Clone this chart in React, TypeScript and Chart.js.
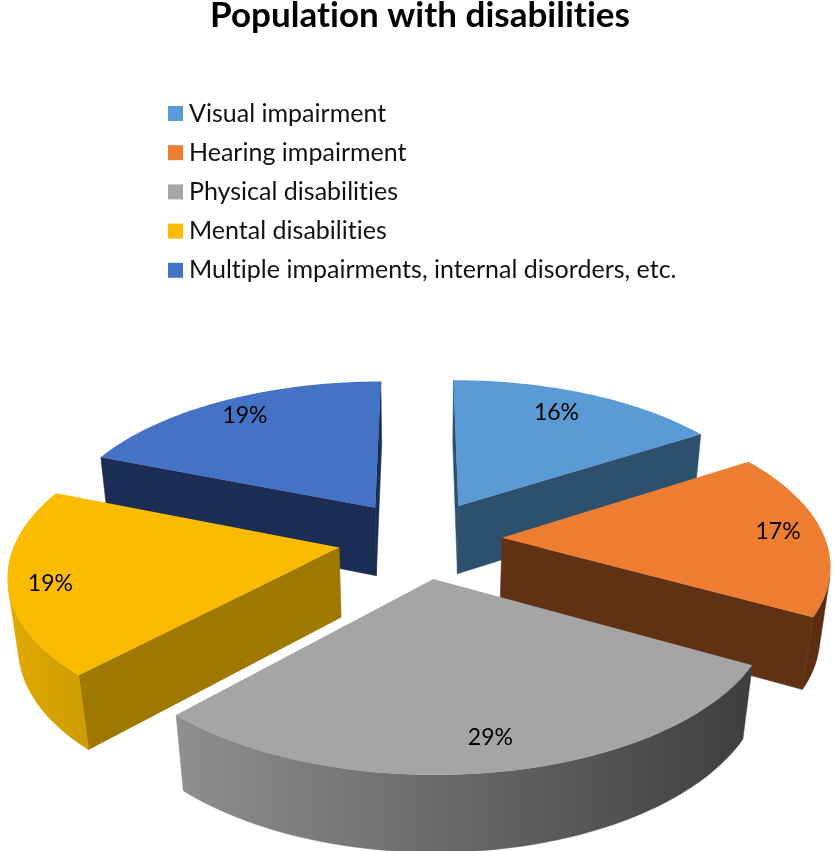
import React, { useEffect, useRef } from "react";
import Chart from "chart.js/auto";

const titleText = "Population with disabilities";
const categories = [
  "Visual impairment",
  "Hearing impairment",
  "Physical disabilities",
  "Mental disabilities",
  "Multiple impairments, internal disorders, etc.",
];
const shares = [16, 17, 29, 19, 19];
const topColors = ["#5b9bd5", "#ed7d31", "#a5a5a5", "#fbbb00", "#4472c4"];
const sideColors = ["#2d506f", "#613113", "#555555", "#9f7800", "#1b2d54"];
const rimLeft = ["#2d506f", "#613113", "#8f8f8f", "#e0aa00", "#1b2d54"];
const rimRight = ["#2d506f", "#5a2d11", "#3e3e3e", "#cf9d00", "#1b2d54"];
const labelNudgeX = [-15, 0, 3, -5, 3];
const labelNudgeY = [4, -2, -3, 6, 1];
const FONT = "Lato, Carlito, Calibri, sans-serif";

const TILT = 0.475;
const DEPTH = 77;
const PERSP0 = 1.083;
const PERSPY = 0.00046;
const PERSPZ = 0.028;
const LABEL_FRAC = 0.86;

function project(cx: number, cy: number, X: number, Y: number, Z: number) {
  const s = 1 / (PERSP0 - PERSPY * Y + PERSPZ * Z);
  return { x: cx + X * s, y: cy + (Y * TILT + Z * DEPTH) * s };
}

function tracePath(ctx: any, list: { x: number; y: number }[]) {
  ctx.beginPath();
  list.forEach((p, m) => (m ? ctx.lineTo(p.x, p.y) : ctx.moveTo(p.x, p.y)));
  ctx.closePath();
}

const pie3d = {
  id: "pie3d",
  beforeDraw(chart: any) {
    // keeps Lato from forming the "ti" ligature, which the reference does not have
    chart.ctx.letterSpacing = "0.01px";
  },
  beforeDatasetsDraw(chart: any) {
    const ctx = chart.ctx;
    const arcs = chart.getDatasetMeta(0).data as any[];
    const order = arcs
      .map((el, i) => ({ el, i, mid: (el.startAngle + el.endAngle) / 2 }))
      .sort((a, b) => Math.sin(a.mid) - Math.sin(b.mid));
    for (const { el, i, mid } of order) {
      const off = el.options.offset;
      const R = el.outerRadius;
      const ox = Math.cos(mid) * off;
      const oy = Math.sin(mid) * off;
      const pts: { X: number; Y: number }[] = [{ X: ox, Y: oy }];
      const steps = 64;
      for (let k = 0; k <= steps; k++) {
        const a = el.startAngle + ((el.endAngle - el.startAngle) * k) / steps;
        pts.push({ X: ox + Math.cos(a) * R, Y: oy + Math.sin(a) * R });
      }
      const top = pts.map((p) => project(el.x, el.y, p.X, p.Y, 0));
      const bot = pts.map((p) => project(el.x, el.y, p.X, p.Y, 1));
      const arcXs = top.slice(1).map((p) => p.x);
      const grad = ctx.createLinearGradient(Math.min(...arcXs), 0, Math.max(...arcXs), 0);
      grad.addColorStop(0, rimLeft[i]);
      grad.addColorStop(1, rimRight[i]);
      const n = pts.length;
      const faces = (k: number) => {
        const j = (k + 1) % n;
        const q = [top[k], top[j], bot[j], bot[k]];
        let area = 0;
        for (let m = 0; m < 4; m++) {
          const u = q[m];
          const v = q[(m + 1) % 4];
          area += u.x * v.y - v.x * u.y;
        }
        return area < 0;
      };
      const paint = (list: { x: number; y: number }[], fill: any) => {
        tracePath(ctx, list);
        ctx.fillStyle = fill;
        ctx.strokeStyle = fill;
        ctx.lineWidth = 0.5;
        ctx.fill();
        ctx.stroke();
      };
      // straight cut faces
      for (const k of [0, n - 1]) {
        if (faces(k)) {
          const j = (k + 1) % n;
          paint([top[k], top[j], bot[j], bot[k]], sideColors[i]);
        }
      }
      // rounded rim, one polygon per visible run
      let runStart = -1;
      for (let k = 1; k <= n - 1; k++) {
        const on = k < n - 1 && faces(k);
        if (on && runStart < 0) runStart = k;
        if (!on && runStart >= 0) {
          const upper = top.slice(runStart, k + 1);
          const lower = bot.slice(runStart, k + 1).reverse();
          paint([...upper, ...lower], grad);
          runStart = -1;
        }
      }
      tracePath(ctx, top);
      ctx.fillStyle = el.options.backgroundColor;
      ctx.fill();
    }
    return false;
  },
  afterDraw(chart: any) {
    const ctx = chart.ctx;
    const arcs = chart.getDatasetMeta(0).data as any[];
    const values = chart.data.datasets[0].data as number[];
    const total = values.reduce((a: number, b: number) => a + b, 0);
    ctx.save();
    ctx.fillStyle = "#000";
    ctx.textAlign = "center";
    ctx.textBaseline = "middle";
    ctx.font = `23px ${FONT}`;
    arcs.forEach((el, i) => {
      const mid = (el.startAngle + el.endAngle) / 2;
      const r = el.options.offset + el.outerRadius * LABEL_FRAC;
      const p = project(el.x, el.y, Math.cos(mid) * r, Math.sin(mid) * r, 0);
      ctx.fillText(
        `${Math.round((values[i] / total) * 100)}%`,
        p.x + labelNudgeX[i],
        p.y + labelNudgeY[i]
      );
    });
    ctx.textAlign = "left";
    ctx.font = `25px ${FONT}`;
    chart.data.labels.forEach((label: string, i: number) => {
      const y = 113 + i * 39.2;
      ctx.fillStyle = arcs[i].options.backgroundColor;
      ctx.fillRect(168, y - 7, 15, 15);
      ctx.fillStyle = "#111";
      ctx.fillText(label, 189, y + 0.5);
    });
    ctx.restore();
  },
};

export default function App() {
  const ref = useRef<HTMLCanvasElement>(null);
  useEffect(() => {
    document.body.style.margin = "0";
    const chart = new Chart(ref.current!, {
      type: "pie",
      data: {
        labels: categories,
        datasets: [
          { data: shares, backgroundColor: topColors, borderWidth: 0, offset: 89, radius: 350 } as any,
        ],
      },
      options: {
        responsive: false,
        animation: false,
        layout: { padding: { left: 2, right: 0, top: 0, bottom: 0 } },
        plugins: {
          legend: { display: false },
          tooltip: { enabled: false },
          title: {
            display: true,
            text: titleText,
            color: "#000",
            font: { family: FONT, size: 35, weight: "bold" },
            padding: { top: -5, bottom: 190 },
          },
        },
      } as any,
      plugins: [pie3d],
    });
    return () => chart.destroy();
  }, []);
  return (
    <canvas
      ref={ref}
      width={838}
      height={851}
      style={{ display: "block", position: "fixed", left: 0, top: 0 }}
    />
  );
}
